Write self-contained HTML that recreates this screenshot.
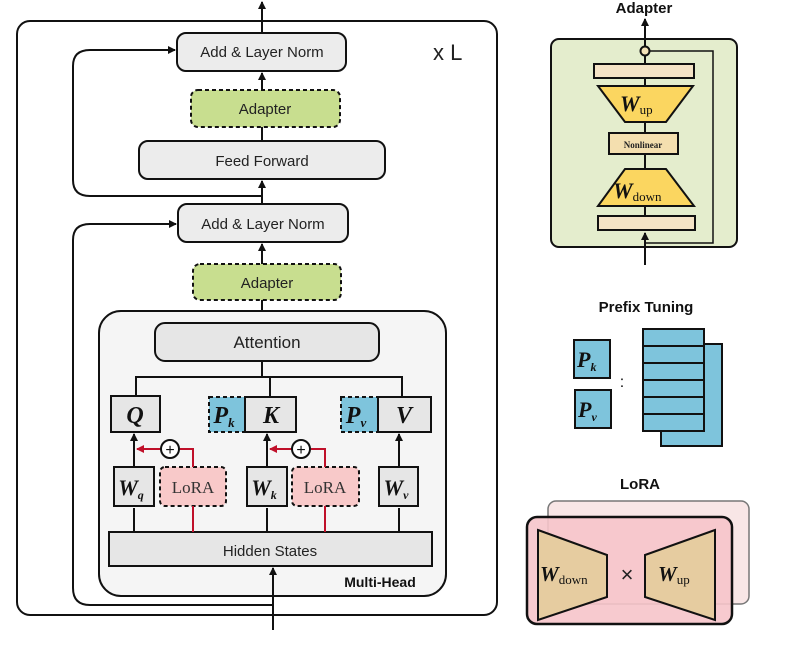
<!DOCTYPE html>
<html><head><meta charset="utf-8"><style>
body{margin:0;background:#fff;}
svg{display:block;font-family:"Liberation Sans",sans-serif;}
.s{font-family:"Liberation Serif",serif;font-style:italic;font-weight:bold;}
</style></head><body>
<svg width="787" height="653" viewBox="0 0 787 653" xmlns="http://www.w3.org/2000/svg">
<defs>
<marker id="a" markerWidth="8" markerHeight="8" refX="7" refY="4" orient="auto" markerUnits="userSpaceOnUse"><path d="M0,0 L8,4 L0,8z" fill="#111"/></marker>
<marker id="r" markerWidth="8" markerHeight="8" refX="7" refY="4" orient="auto" markerUnits="userSpaceOnUse"><path d="M0,0 L8,4 L0,8z" fill="#c0102a"/></marker>
</defs>
<g stroke="#111" stroke-width="2" fill="none">
<rect x="17" y="21" width="480" height="594" rx="13" fill="#fff"/>
<path d="M262,196 L90,196 Q73,196 73,180 L73,66 Q73,50 90,50 L175,50" marker-end="url(#a)"/>
<path d="M273,605 L90,605 Q73,605 73,588 L73,240 Q73,224 90,224 L176,224" marker-end="url(#a)"/>
<path d="M262,33 L262,2" marker-end="url(#a)"/>
<path d="M262,90 L262,73" marker-end="url(#a)"/>
<path d="M262,141 L262,127"/>
<path d="M262,204 L262,181" marker-end="url(#a)"/>
<path d="M262,264 L262,244" marker-end="url(#a)"/>
<path d="M262,300 L262,323"/>
<rect x="99" y="311" width="347" height="285" rx="22" fill="#f5f5f5"/>
<path d="M273,630 L273,568" marker-end="url(#a)"/>
<path d="M262,361 L262,377 M136,396 L136,377 L402,377 L402,396 M270,377 L270,397"/>
</g>
<g stroke="#111" stroke-width="2">
<rect x="177" y="33" width="169" height="38" rx="9" fill="#ececec"/>
<rect x="191" y="90" width="149" height="37" rx="7" fill="#c8de8f" stroke-dasharray="4,3"/>
<rect x="139" y="141" width="246" height="38" rx="9" fill="#ececec"/>
<rect x="178" y="204" width="170" height="38" rx="9" fill="#ececec"/>
<rect x="193" y="264" width="148" height="36" rx="7" fill="#c8de8f" stroke-dasharray="4,3"/>
<rect x="155" y="323" width="224" height="38" rx="10" fill="#e6e6e6"/>
</g>
<g font-size="15" fill="#222" text-anchor="middle">
<text x="262" y="57">Add &amp; Layer Norm</text>
<text x="265" y="114">Adapter</text>
<text x="262" y="166">Feed Forward</text>
<text x="263" y="229">Add &amp; Layer Norm</text>
<text x="267" y="288">Adapter</text>
<text x="267" y="348" font-size="17">Attention</text>
</g>
<text x="433" y="60" font-size="22" fill="#222">x L</text>
<g stroke="#111" stroke-width="2">
<path d="M134,532 L134,508 M134,467 L134,434" fill="none" marker-end="url(#a)"/>
<path d="M267,532 L267,508 M267,467 L267,434" fill="none" marker-end="url(#a)"/>
<path d="M399,532 L399,508 M399,467 L399,434" fill="none" marker-end="url(#a)"/>
<rect x="111" y="396" width="49" height="36" fill="#e6e6e6"/>
<rect x="209" y="397" width="36" height="35" fill="#7ec4dc" stroke-dasharray="4,3"/>
<rect x="245" y="397" width="51" height="35" fill="#e6e6e6"/>
<rect x="341" y="397" width="37" height="35" fill="#7ec4dc" stroke-dasharray="4,3"/>
<rect x="378" y="397" width="53" height="35" fill="#e6e6e6"/>
<rect x="114" y="467" width="40" height="39" fill="#e6e6e6"/>
<rect x="247" y="467" width="40" height="39" fill="#e6e6e6"/>
<rect x="379" y="467" width="39" height="39" fill="#e6e6e6"/>
<rect x="160" y="467" width="66" height="39" rx="5" fill="#f8c9c9" stroke-dasharray="4,3"/>
<rect x="292" y="467" width="67" height="39" rx="5" fill="#f8c9c9" stroke-dasharray="4,3"/>
<rect x="109" y="532" width="323" height="34" fill="#e6e6e6"/>
</g>
<g stroke="#c0102a" stroke-width="2" fill="none">
<path d="M193,532 L193,506 M193,467 L193,449 L180,449 M161,449 L137,449" marker-end="url(#r)"/>
<path d="M325,532 L325,506 M325,467 L325,449 L311,449 M292,449 L270,449" marker-end="url(#r)"/>
</g>
<g stroke="#111" stroke-width="2" fill="#fff">
<circle cx="170" cy="449" r="9"/><circle cx="301" cy="449" r="9"/>
</g>
<g font-size="16" text-anchor="middle" fill="#111">
<text x="170" y="455">+</text><text x="301" y="455">+</text>
</g>
<g class="s" font-size="24" fill="#111" text-anchor="middle">
<text x="135" y="423">Q</text><text x="271" y="423">K</text><text x="404" y="423">V</text>
<text x="224" y="423">P<tspan font-size="13" dy="4">k</tspan></text>
<text x="356" y="423">P<tspan font-size="13" dy="4">v</tspan></text>
<text x="131" y="495" font-size="22">W<tspan font-size="12" dy="4">q</tspan></text>
<text x="264" y="495" font-size="22">W<tspan font-size="12" dy="4">k</tspan></text>
<text x="396" y="495" font-size="22">W<tspan font-size="12" dy="4">v</tspan></text>
</g>
<g font-family="Liberation Serif,serif" font-size="17" fill="#333" text-anchor="middle">
<text x="193" y="493">LoRA</text><text x="325" y="493">LoRA</text>
</g>
<text x="270" y="556" font-size="15" fill="#222" text-anchor="middle">Hidden States</text>
<text x="380" y="587" font-size="14" font-weight="bold" fill="#111" text-anchor="middle">Multi-Head</text>

<text x="644" y="13" font-size="15" font-weight="bold" fill="#111" text-anchor="middle">Adapter</text>
<rect x="551" y="39" width="186" height="208" rx="8" fill="#e4edcd" stroke="#111" stroke-width="2"/>
<g stroke="#111" stroke-width="2" fill="none">
<path d="M645,265 L645,233" marker-end="url(#a)"/>
<path d="M645,216 L645,206 M645,169 L645,154 M645,133 L645,122 M645,86 L645,78 M645,64 L645,56 M645,46 L645,19" marker-end="url(#a)"/>
<path d="M649,51 L713,51 L713,243 L645,243" stroke-width="1.5"/>
</g>
<g stroke="#111" stroke-width="2">
<circle cx="645" cy="51" r="4.5" fill="#f4e3b8"/>
<rect x="594" y="64" width="100" height="14" fill="#f4e3c6"/>
<polygon points="598,86 693,86 666,122 625,122" fill="#fbd660"/>
<rect x="609" y="133" width="69" height="21" fill="#f4dfaf"/>
<polygon points="625,169 666,169 694,206 598,206" fill="#fbd660"/>
<rect x="598" y="216" width="97" height="14" fill="#f4e3c6"/>
</g>
<text x="643" y="148" font-family="Liberation Serif,serif" font-size="9" font-weight="bold" fill="#222" text-anchor="middle">Nonlinear</text>
<text class="s" x="620" y="111" font-size="22" fill="#111">W<tspan font-size="13" font-weight="normal" font-style="normal" dy="3">up</tspan></text>
<text class="s" x="613" y="198" font-size="22" fill="#111">W<tspan font-size="13" font-weight="normal" font-style="normal" dy="3">down</tspan></text>

<text x="646" y="312" font-size="15" font-weight="bold" fill="#111" text-anchor="middle">Prefix Tuning</text>
<g stroke="#111" stroke-width="2" fill="#7ec4dc">
<rect x="574" y="340" width="36" height="38"/>
<rect x="575" y="390" width="36" height="38"/>
<rect x="661" y="344" width="61" height="102"/>
<rect x="643" y="329" width="61" height="102"/>
<path d="M643,346 L704,346 M643,363 L704,363 M643,380 L704,380 M643,397 L704,397 M643,414 L704,414" fill="none"/>
</g>
<text x="622" y="387" font-size="16" fill="#111" text-anchor="middle">:</text>
<g class="s" font-size="22" fill="#111">
<text x="577" y="367">P<tspan font-size="12" dy="4">k</tspan></text>
<text x="578" y="417">P<tspan font-size="12" dy="4">v</tspan></text>
</g>

<text x="640" y="489" font-size="15" font-weight="bold" fill="#111" text-anchor="middle">LoRA</text>
<rect x="548" y="501" width="201" height="103" rx="8" fill="#f8e6e6" stroke="#777" stroke-width="1.5"/>
<rect x="527" y="517" width="205" height="107" rx="10" fill="#f6c4ca" fill-opacity="0.9" stroke="#111" stroke-width="2.5"/>
<g stroke="#111" stroke-width="2" fill="#e6cca0">
<polygon points="538,530 607,555 607,597 538,620"/>
<polygon points="715,530 645,555 645,597 715,620"/>
</g>
<text x="627" y="582" font-size="22" fill="#222" text-anchor="middle">×</text>
<text class="s" x="540" y="581" font-size="21" fill="#111">W<tspan font-size="13" font-weight="normal" font-style="normal" dy="3">down</tspan></text>
<text class="s" x="658" y="581" font-size="21" fill="#111">W<tspan font-size="13" font-weight="normal" font-style="normal" dy="3">up</tspan></text>
</svg>
</body></html>
